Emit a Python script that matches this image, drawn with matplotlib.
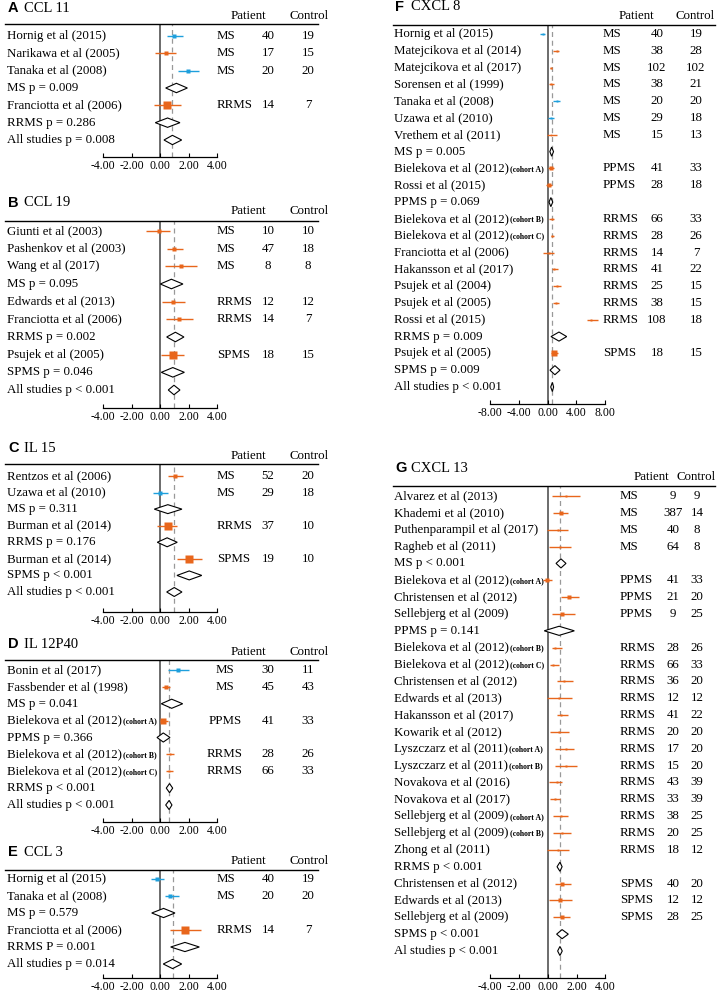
import matplotlib
matplotlib.use("Agg")
import matplotlib.pyplot as plt
import matplotlib.transforms as mtransforms
from matplotlib.lines import Line2D
from matplotlib.ticker import FormatStrFormatter
import numpy as np

plt.rcParams["font.family"] = ["Liberation Serif", "DejaVu Serif"]
plt.rcParams["axes.unicode_minus"] = False

# ---- A: CCL 11
a_names = ["Hornig et al (2015)", "Narikawa et al (2005)", "Tanaka et al (2008)", "Franciotta et al (2006)"]
a_groups = ["MS", "MS", "MS", "RRMS"]
a_es = [1.0, 0.4, 1.99, 0.51]
a_lo = [0.51, -0.37, 1.24, -0.42]
a_hi = [1.61, 1.1, 2.74, 1.47]
a_patient = [40, 17, 20, 14]
a_control = [19, 15, 20, 7]
a_series = ["b", "o", "b", "o"]
a_weight = [25, 25, 25, 100]
a_sum_labels = ["MS p = 0.009", "RRMS p = 0.286", "All studies p = 0.008"]
a_sum_es = [1.15, 0.53, 0.87]
a_sum_lo = [0.4, -0.33, 0.28]
a_sum_hi = [1.92, 1.4, 1.52]

# ---- B: CCL 19
b_names = ["Giunti et al (2003)", "Pashenkov et al (2003)", "Wang et al (2017)",
           "Edwards et al (2013)", "Franciotta et al (2006)", "Psujek et al (2005)"]
b_groups = ["MS", "MS", "MS", "RRMS", "RRMS", "SPMS"]
b_es = [-0.09, 1.0, 1.47, 0.89, 1.33, 0.91]
b_lo = [-0.98, 0.51, 0.37, 0.12, 0.4, 0.09]
b_hi = [0.72, 1.59, 2.6, 1.75, 2.34, 1.71]
b_patient = [10, 47, 8, 12, 14, 18]
b_control = [10, 18, 8, 12, 7, 15]
b_series = ["o", "o", "o", "o", "o", "o"]
b_weight = [25, 25, 25, 39, 25, 77]
b_sum_labels = ["MS p = 0.095", "RRMS p = 0.002", "SPMS p = 0.046", "All studies p < 0.001"]
b_sum_es = [0.8, 1.08, 0.9, 0.98]
b_sum_lo = [0.02, 0.47, 0.09, 0.58]
b_sum_hi = [1.61, 1.68, 1.71, 1.4]

# ---- C: IL 15
c_names = ["Rentzos et al (2006)", "Uzawa et al (2010)", "Burman et al (2014)", "Burman et al (2014)"]
c_groups = ["MS", "MS", "RRMS", "SPMS"]
c_es = [1.08, 0.0, 0.54, 2.04]
c_lo = [0.54, -0.51, -0.19, 1.17]
c_hi = [1.59, 0.58, 1.21, 2.97]
c_patient = [52, 29, 37, 19]
c_control = [20, 18, 10, 10]
c_series = ["o", "b", "o", "o"]
c_weight = [39, 25, 77, 77]
c_sum_labels = ["MS p = 0.311", "RRMS p = 0.176", "SPMS p < 0.001", "All studies p < 0.001"]
c_sum_es = [0.55, 0.5, 2.05, 1.0]
c_sum_lo = [-0.4, -0.19, 1.19, 0.47]
c_sum_hi = [1.54, 1.21, 2.93, 1.54]

# ---- D: IL 12P40
d_names = ["Bonin et al (2017)", "Fassbender et al (1998)", "Bielekova et al (2012)(cohort A)",
           "Bielekova et al (2012)(cohort B)", "Bielekova et al (2012)(cohort C)"]
d_groups = ["MS", "MS", "PPMS", "RRMS", "RRMS"]
d_es = [1.28, 0.42, 0.23, 0.7, 0.65]
d_lo = [0.54, 0.16, 0.0, 0.4, 0.4]
d_hi = [2.04, 0.7, 0.58, 1.0, 0.94]
d_patient = [30, 45, 41, 28, 66]
d_control = [11, 43, 33, 26, 33]
d_series = ["b", "o", "o", "o", "o"]
d_weight = [25, 25, 56, 14, 14]
d_sum_labels = ["MS p = 0.041", "PPMS p = 0.366", "RRMS p < 0.001", "All studies p < 0.001"]
d_sum_es = [0.82, 0.23, 0.67, 0.64]
d_sum_lo = [0.09, -0.21, 0.44, 0.4]
d_sum_hi = [1.59, 0.7, 0.89, 0.84]

# ---- E: CCL 3
e_names = ["Hornig et al (2015)", "Tanaka et al (2008)", "Franciotta et al (2006)"]
e_groups = ["MS", "MS", "RRMS"]
e_es = [-0.21, 0.7, 1.75]
e_lo = [-0.65, 0.35, 0.7]
e_hi = [0.28, 1.36, 2.85]
e_patient = [40, 20, 14]
e_control = [19, 20, 7]
e_series = ["b", "b", "o"]
e_weight = [25, 39, 100]
e_sum_labels = ["MS p = 0.579", "RRMS P = 0.001", "All studies p = 0.014"]
e_sum_es = [0.25, 1.75, 0.88]
e_sum_lo = [-0.58, 0.75, 0.23]
e_sum_hi = [1.05, 2.76, 1.52]

# ---- F: CXCL 8
f_names = ["Hornig et al (2015)", "Matejcikova et al (2014)", "Matejcikova et al (2017)",
           "Sorensen et al (1999)", "Tanaka et al (2008)", "Uzawa et al (2010)", "Vrethem et al (2011)",
           "Bielekova et al (2012)(cohort A)", "Rossi et al (2015)",
           "Bielekova et al (2012)(cohort B)", "Bielekova et al (2012)(cohort C)",
           "Franciotta et al (2006)", "Hakansson et al (2017)", "Psujek et al (2004)",
           "Psujek et al (2005)", "Rossi et al (2015)", "Psujek et al (2005)"]
f_groups = ["MS"] * 7 + ["PPMS"] * 2 + ["RRMS"] * 7 + ["SPMS"]
f_es = [-0.7, 1.25, 0.5, 0.5, 1.25, 0.42, 0.5, 0.46, 0.13, 0.55, 0.65, 0.13, 0.92, 1.3, 1.1, 6.0, 0.92]
f_lo = [-1.07, 0.78, 0.3, 0.18, 0.69, 0.09, -0.14, 0.1, -0.28, 0.16, 0.4, -0.6, 0.55, 0.69, 0.69, 5.4, 0.46]
f_hi = [-0.33, 1.62, 0.65, 0.88, 1.71, 0.88, 1.3, 0.88, 0.55, 0.9, 0.94, 0.88, 1.4, 1.9, 1.62, 7.0, 1.48]
f_patient = [40, 38, 102, 38, 20, 29, 15, 41, 28, 66, 28, 14, 41, 25, 38, 108, 18]
f_control = [19, 28, 102, 21, 20, 18, 13, 33, 18, 33, 26, 7, 22, 15, 15, 18, 15]
f_series = ["b", "o", "o", "o", "b", "b", "o", "o", "o", "o", "o", "o", "o", "o", "o", "o", "o"]
f_weight = [6, 6, 6, 6, 6, 6, 4, 25, 25, 6, 6, 14, 6, 6, 6, 6, 56]
f_sum_labels = ["MS p = 0.005", "PPMS p = 0.069", "RRMS p = 0.009", "SPMS p = 0.009", "All studies p < 0.001"]
f_sum_es = [0.55, 0.44, 1.57, 1.0, 0.65]
f_sum_lo = [0.3, 0.18, 0.46, 0.32, 0.42]
f_sum_hi = [0.81, 0.7, 2.64, 1.71, 0.82]

# ---- G: CXCL 13
g_names = ["Alvarez et al (2013)", "Khademi et al (2010)", "Puthenparampil et al (2017)",
           "Ragheb et al (2011)", "Bielekova et al (2012)(cohort A)", "Christensen et al (2012)",
           "Sellebjerg et al (2009)", "Bielekova et al (2012)(cohort B)",
           "Bielekova et al (2012)(cohort C)", "Christensen et al (2012)", "Edwards et al (2013)",
           "Hakansson et al (2017)", "Kowarik et al (2012)", "Lyszczarz et al (2011)(cohort A)",
           "Lyszczarz et al (2011)(cohort B)", "Novakova et al (2016)", "Novakova et al (2017)",
           "Sellebjerg et al (2009)(cohort A)", "Sellebjerg et al (2009)(cohort B)",
           "Zhong et al (2011)", "Christensen et al (2012)", "Edwards et al (2013)",
           "Sellebjerg et al (2009)"]
g_groups = ["MS"] * 4 + ["PPMS"] * 3 + ["RRMS"] * 13 + ["SPMS"] * 3
g_es = [1.25, 0.92, 0.69, 0.85, -0.03, 1.5, 1.01, 0.51, 0.39, 1.13, 0.81, 0.92, 0.81,
        1.25, 1.25, 0.62, 0.51, 0.92, 1.01, 0.69, 1.01, 0.85, 0.97]
g_lo = [0.28, 0.39, -0.03, 0.09, -0.35, 0.9, 0.28, 0.28, 0.17, 0.62, -0.03, 0.62, 0.16,
        0.51, 0.51, 0.09, 0.16, 0.39, 0.39, -0.07, 0.51, 0.09, 0.39]
g_hi = [2.24, 1.43, 1.43, 1.6, 0.28, 2.17, 1.9, 1.0, 0.78, 1.78, 1.71, 1.43, 1.48,
        1.83, 2.01, 1.01, 0.85, 1.43, 1.64, 1.48, 1.6, 1.71, 1.55]
g_patient = [9, 387, 40, 64, 41, 21, 9, 28, 66, 36, 12, 41, 20, 17, 15, 43, 33, 38, 20, 18, 40, 12, 28]
g_control = [9, 14, 8, 8, 33, 20, 25, 26, 33, 20, 12, 22, 20, 20, 20, 39, 39, 25, 25, 12, 20, 12, 25]
g_series = ["o"] * 23
g_weight = [6, 39, 14, 14, 25, 39, 39, 6, 6, 6, 6, 6, 6, 6, 6, 6, 6, 6, 6, 6, 39, 39, 39]
g_sum_labels = ["MS p < 0.001", "PPMS p = 0.141", "RRMS p < 0.001", "SPMS p < 0.001", "Al studies p < 0.001"]
g_sum_es = [0.92, 0.79, 0.85, 1.0, 0.85]
g_sum_lo = [0.58, -0.24, 0.65, 0.62, 0.69]
g_sum_hi = [1.27, 1.85, 1.0, 1.43, 1.01]

COLORS = {"b": "#1e9fdc", "o": "#e8661c"}
W, H = 719, 992
fig = plt.figure(figsize=(W / 100, H / 100), dpi=100)


def fx(px):
    return px / W


def fy(py):
    return 1 - py / H


def draw_panel(letter, title, names, groups, es, lo, hi, pat, ctl, series, weight,
               sum_labels, sum_es, sum_lo, sum_hi, lay):
    # row order: studies of each subgroup, then its summary, then overall
    order = []
    for g in groups:
        if g not in order:
            order.append(g)
    rows = []
    for gi, g in enumerate(order):
        rows += [("s", i) for i, gg in enumerate(groups) if gg == g]
        rows.append(("d", gi))
    rows.append(("d", len(order)))

    sp = (lay["last_y"] - lay["first_y"]) / (len(rows) - 1)
    lim = lay["lim"]
    left = lay["zero"] - lim * lay["scale"]
    right = lay["zero"] + lim * lay["scale"]
    ax = fig.add_axes([fx(left), fy(lay["axis_y"]), (right - left) / W,
                       (lay["axis_y"] - lay["line_y"]) / H])
    ax.set_xlim(-lim, lim)
    ax.set_ylim((lay["axis_y"] - lay["first_y"]) / sp, (lay["line_y"] - lay["first_y"]) / sp)
    ax.patch.set_alpha(0)
    for s in ["top", "left", "right"]:
        ax.spines[s].set_visible(False)
    ax.spines["bottom"].set_linewidth(0.9)
    ax.set_yticks([])
    ax.set_xticks(np.linspace(-lim, lim, 5))
    ax.xaxis.set_major_formatter(FormatStrFormatter("%.2f"))
    ax.tick_params(axis="x", direction="in", length=3, width=0.8, labelsize=8.5, pad=2)

    ax.axvline(0, color="#444444", lw=1.1, zorder=1)
    ax.axvline(sum_es[-1], color="#999999", lw=0.9, ls=(0, (4, 3)), zorder=1)

    tr = mtransforms.blended_transform_factory(fig.transFigure, ax.transData)
    fs = 9.3
    for r, (kind, i) in enumerate(rows):
        if kind == "s":
            name = names[i]
            cohort = ""
            if "(cohort" in name:
                k = name.index("(cohort")
                name, cohort = name[:k], name[k:]
            t = ax.text(fx(lay["label_x"]), r, name, transform=tr, fontsize=fs, va="center", ha="left")
            if cohort:
                ax.annotate(cohort, xy=(1, 0.45), xycoords=t, xytext=(1.0, 0),
                            textcoords="offset points", fontsize=5.6, fontweight="bold",
                            va="center", ha="left")
            c = COLORS[series[i]]
            ax.plot([lo[i], hi[i]], [r, r], color=c, lw=1.0, zorder=3, solid_capstyle="butt")
            ax.plot([es[i]], [r], marker="s", color=c, mec="none",
                    ms=0.8 * np.sqrt(weight[i]) * 0.72, zorder=4)
            ax.text(fx(lay["type_x"]), r, groups[i], transform=tr, fontsize=fs, va="center",
                    ha=lay["type_ha"])
            ax.text(fx(lay["pat_x"]), r, str(pat[i]), transform=tr, fontsize=fs, va="center", ha="center")
            ax.text(fx(lay["ctl_x"]), r, str(ctl[i]), transform=tr, fontsize=fs, va="center", ha="center")
        else:
            ax.text(fx(lay["label_x"]), r, sum_labels[i], transform=tr, fontsize=fs, va="center", ha="left")
            h = 0.27
            xs = [sum_lo[i], sum_es[i], sum_hi[i], sum_es[i]]
            ys = [r, r - h, r, r + h]
            ax.fill(xs, ys, facecolor="white", edgecolor="black", lw=0.8, zorder=4)

    # header, rule and title
    fig.text(fx(lay["hdr_pat"]), fy(lay["header_y"]), "Patient", fontsize=fs, ha="center", va="center")
    fig.text(fx(lay["hdr_ctl"]), fy(lay["header_y"]), "Control", fontsize=fs, ha="center", va="center")
    x1, x2 = lay["rule_x"]
    fig.add_artist(Line2D([fx(x1), fx(x2)], [fy(lay["line_y"])] * 2, transform=fig.transFigure,
                          color="black", lw=1.0))
    fig.text(fx(lay["title_x"]), fy(lay["title_y"]), letter, family="Liberation Sans",
             fontweight="bold", fontsize=10.5, ha="left", va="center")
    fig.text(fx(lay["title_x"] + 16), fy(lay["title_y"]), title, fontsize=10.5, ha="left", va="center")


left_col = dict(zero=160, scale=14.25, lim=4, label_x=7, rule_x=(5, 318), type_x=217,
                type_ha="left", pat_x=268, ctl_x=308, hdr_pat=248, hdr_ctl=309, title_x=8)
right_col = dict(zero=547.7, label_x=394, rule_x=(393, 715), type_ha="left", title_x=395)

lay_a = dict(left_col, line_y=24, first_y=36, last_y=140, axis_y=157, title_y=8, header_y=16)
lay_b = dict(left_col, line_y=221, first_y=231, last_y=390, axis_y=408, title_y=203, header_y=211)
lay_c = dict(left_col, line_y=464, first_y=476, last_y=592, axis_y=612, title_y=448, header_y=456)
lay_d = dict(left_col, line_y=660, first_y=670, last_y=805, axis_y=822, title_y=644, header_y=652,
             type_x=225, type_ha="center")
lay_e = dict(left_col, line_y=870, first_y=879, last_y=964, axis_y=978, title_y=852, header_y=861)
lay_f = dict(right_col, scale=7.19, lim=8, line_y=25, first_y=34, last_y=387, axis_y=404,
             title_y=7, header_y=16, type_x=603, pat_x=657, ctl_x=696, hdr_pat=636, hdr_ctl=695)
lay_g = dict(right_col, scale=14.4, lim=4, line_y=486, first_y=496, last_y=951, axis_y=978,
             title_y=468, header_y=477, type_x=620, pat_x=673, ctl_x=697, hdr_pat=651, hdr_ctl=696)

draw_panel("A", "CCL 11", a_names, a_groups, a_es, a_lo, a_hi, a_patient, a_control, a_series,
           a_weight, a_sum_labels, a_sum_es, a_sum_lo, a_sum_hi, lay_a)
draw_panel("B", "CCL 19", b_names, b_groups, b_es, b_lo, b_hi, b_patient, b_control, b_series,
           b_weight, b_sum_labels, b_sum_es, b_sum_lo, b_sum_hi, lay_b)
draw_panel("C", "IL 15", c_names, c_groups, c_es, c_lo, c_hi, c_patient, c_control, c_series,
           c_weight, c_sum_labels, c_sum_es, c_sum_lo, c_sum_hi, lay_c)
draw_panel("D", "IL 12P40", d_names, d_groups, d_es, d_lo, d_hi, d_patient, d_control, d_series,
           d_weight, d_sum_labels, d_sum_es, d_sum_lo, d_sum_hi, lay_d)
draw_panel("E", "CCL 3", e_names, e_groups, e_es, e_lo, e_hi, e_patient, e_control, e_series,
           e_weight, e_sum_labels, e_sum_es, e_sum_lo, e_sum_hi, lay_e)
draw_panel("F", "CXCL 8", f_names, f_groups, f_es, f_lo, f_hi, f_patient, f_control, f_series,
           f_weight, f_sum_labels, f_sum_es, f_sum_lo, f_sum_hi, lay_f)
draw_panel("G", "CXCL 13", g_names, g_groups, g_es, g_lo, g_hi, g_patient, g_control, g_series,
           g_weight, g_sum_labels, g_sum_es, g_sum_lo, g_sum_hi, lay_g)

fig.savefig("out.png", dpi=100, facecolor="white")
